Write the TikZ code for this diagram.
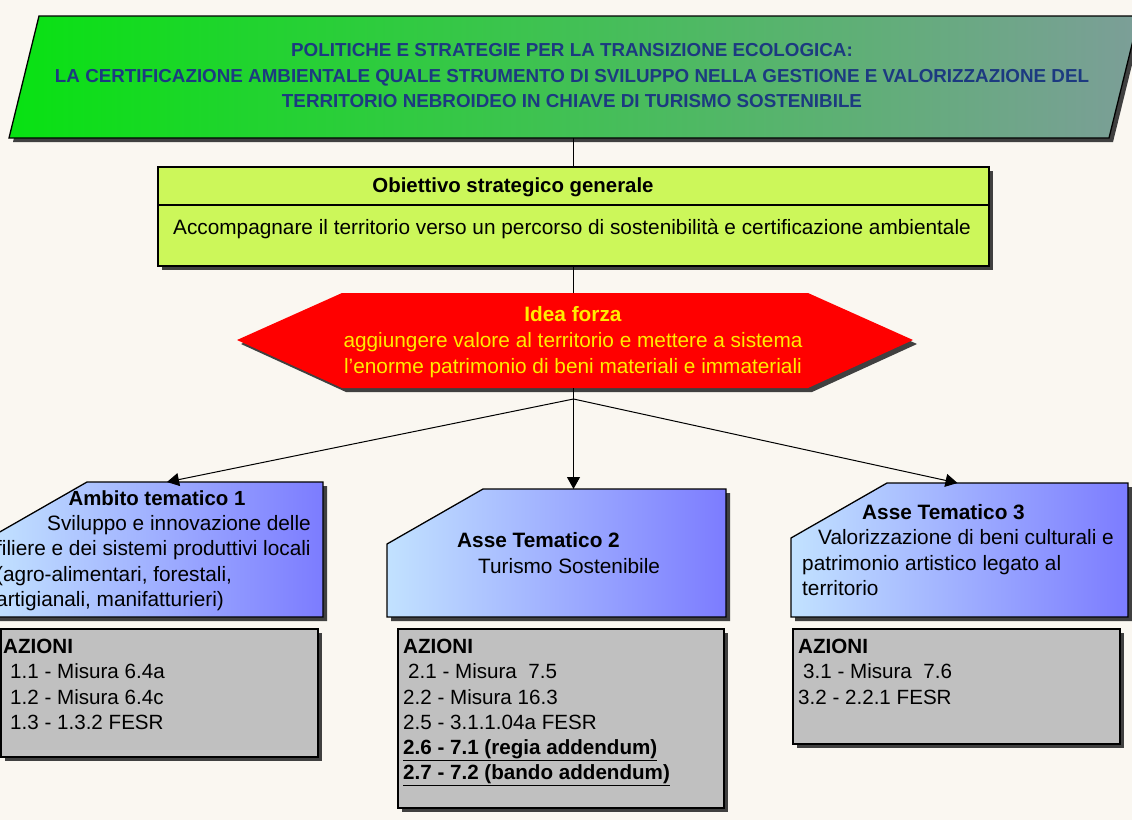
\documentclass[tikz,border=0pt]{standalone}
\usepackage{fontspec}
\setmainfont{Liberation Sans}
\usetikzlibrary{arrows.meta,shadows,calc}

\definecolor{sfondo}{RGB}{250,247,241}
\definecolor{verdeA}{RGB}{8,226,18}
\definecolor{verdeB}{RGB}{124,158,152}
\definecolor{blutitolo}{RGB}{28,58,128}
\definecolor{lime}{RGB}{204,247,90}
\definecolor{celeste}{RGB}{194,226,255}
\definecolor{viola}{RGB}{124,124,255}
\definecolor{grigio}{RGB}{192,192,192}
\definecolor{giallo}{RGB}{255,236,0}

\begin{document}
\begin{tikzpicture}[
        x=1pt, y=-1pt, % coordinate in pixel, y verso il basso
        ombra/.style={drop shadow={shadow xshift=4pt, shadow yshift=-4pt, fill=black!75, opacity=1}},
        bordo/.style={draw=black, line width=1.3pt},
        area/.style={draw=none, inner sep=0pt, outer sep=0pt}, % rettangolo di un asse
        scatola/.style={bordo, ombra, inner sep=0pt, outer sep=0pt},
        asse/.style={bordo, ombra, left color=celeste, right color=viola},
        testo/.style={inner sep=0pt, font=\fontsize{20.8}{25.5}\selectfont, align=left},
        grassetto/.style={testo, font=\bfseries\fontsize{20.4}{25.5}\selectfont},
        linea/.style={draw, line width=1pt},
        freccia/.style={linea, -{Triangle[width=13pt, length=12pt]}},
    ]

    \fill[sfondo] (0,0) rectangle (1132,820);
    \useasboundingbox (0,0) rectangle (1132,820);

    % titolo
    \path[bordo, ombra, left color=verdeA, right color=verdeB] (39,16) -- (1139,16) -- (1109,138) -- (9,138) -- cycle;
    \node[testo, align=center, anchor=north, text=blutitolo, font=\bfseries\fontsize{18.8}{25.5}\selectfont] (titolo) at (572,43.5)
        {POLITICHE E STRATEGIE PER LA TRANSIZIONE ECOLOGICA:\\
         LA CERTIFICAZIONE AMBIENTALE QUALE STRUMENTO DI SVILUPPO NELLA GESTIONE E VALORIZZAZIONE DEL\\
         TERRITORIO NEBROIDEO IN CHIAVE DI TURISMO SOSTENIBILE};
    \coordinate (titoloS) at (573.5,138);

    % obiettivo
    \node[scatola, fill=lime, minimum width=831pt, minimum height=99pt] (obiettivo) at (573.5,216.5) {};
    \draw[bordo] ($(obiettivo.north west)+(0,38)$) -- ($(obiettivo.north east)+(0,38)$);
    \node[grassetto, anchor=base] (obtitolo) at (513,192) {Obiettivo strategico generale};
    \node[testo, anchor=base] (obtesto) at (572,234) {Accompagnare il territorio verso un percorso di sostenibilità e certificazione ambientale};

    % idea forza
    \path[ombra, fill=red] (237,340) -- (342,293) -- (808,293) -- (913,340) -- (808,388) -- (342,388) -- cycle;
    \node[testo, align=center, anchor=north, text=giallo, font=\fontsize{20.8}{26}\selectfont] (idea) at (573,306.2)
        {\textbf{Idea forza}\\aggiungere valore al territorio e mettere a sistema\\l'enorme patrimonio di beni materiali e immateriali};
    \coordinate (ideaN) at (573.5,293);
    \coordinate (ideaS) at (573.5,388);
    \coordinate (snodo) at (573.5,399);

    % assi tematici
    \node[area, minimum width=332pt, minimum height=135pt] (asse1) at (157,549.5) {};
    \path[asse] (asse1.south west) -- ($(asse1.north west)+(0,55)$) -- ($(asse1.north west)+(96,0)$) -- (asse1.north east) -- (asse1.south east) -- cycle;
    \node[area, minimum width=339pt, minimum height=128pt] (asse2) at (556.5,553) {};
    \path[asse] (asse2.south west) -- ($(asse2.north west)+(0,55)$) -- ($(asse2.north west)+(96,0)$) -- (asse2.north east) -- (asse2.south east) -- cycle;
    \node[area, minimum width=337pt, minimum height=134pt] (asse3) at (959.5,550) {};
    \path[asse] (asse3.south west) -- ($(asse3.north west)+(0,55)$) -- ($(asse3.north west)+(96,0)$) -- (asse3.north east) -- (asse3.south east) -- cycle;

    \node[grassetto, anchor=base] (a1titolo) at (157,505) {Ambito tematico 1};
    \node[testo, anchor=north west] (a1testo) at (-4,515.2)
        {\hspace*{51pt}Sviluppo e innovazione delle\\filiere e dei sistemi produttivi locali\\(agro-alimentari, forestali,\\artigianali, manifatturieri)};
    \node[testo, anchor=north west, font=\fontsize{20.8}{26}\selectfont] (a2testo) at (457,532.2)
        {\textbf{Asse Tematico 2}\\\hspace*{21pt}Turismo Sostenibile};
    \node[testo, anchor=north west] (a3testo) at (802,504.2)
        {\hspace*{60pt}\textbf{Asse Tematico 3}\\\hspace*{16pt}Valorizzazione di beni culturali e\\patrimonio artistico legato al\\territorio};

    % azioni
    \node[scatola, fill=grigio, minimum width=317pt, minimum height=128pt] (azioni1) at (159.5,693) {};
    \node[scatola, fill=grigio, minimum width=326pt, minimum height=179pt] (azioni2) at (561,718.5) {};
    \node[scatola, fill=grigio, minimum width=327pt, minimum height=115pt] (azioni3) at (956.5,686.5) {};
    \node[testo, anchor=north west, font=\fontsize{20.6}{25.2}\selectfont] (az1testo) at (3,639.2)
        {\textbf{AZIONI}\\\hspace*{7pt}1.1 - Misura 6.4a\\\hspace*{7pt}1.2 - Misura 6.4c\\\hspace*{7pt}1.3 - 1.3.2 FESR};
    \node[testo, anchor=north west, font=\fontsize{20.6}{25.2}\selectfont] (az2testo) at (403,639.2)
        {\textbf{AZIONI}\\\hspace*{5pt}2.1 - Misura\ \ 7.5\\2.2 - Misura 16.3\\2.5 - 3.1.1.04a FESR\\
         \underline{\textbf{2.6 - 7.1 (regia addendum)}}\\\underline{\textbf{2.7 - 7.2 (bando addendum)}}};
    \node[testo, anchor=north west, font=\fontsize{20.6}{25.2}\selectfont] (az3testo) at (798,639.2)
        {\textbf{AZIONI}\\\hspace*{5pt}3.1 - Misura\ \ 7.6\\3.2 - 2.2.1 FESR};

    % collegamenti
    \draw[linea] (titoloS) -- (obiettivo.north);
    \draw[linea] (obiettivo.south) -- (ideaN);
    \draw[linea] (ideaS) -- (snodo);
    \draw[freccia] (snodo) -- ($(asse1.north)+(10,0)$);
    \draw[freccia] (snodo) -- (snodo |- asse2.north);
    \draw[freccia] (snodo) -- ($(asse3.north)+(-2,0)$);
\end{tikzpicture}
\end{document}
